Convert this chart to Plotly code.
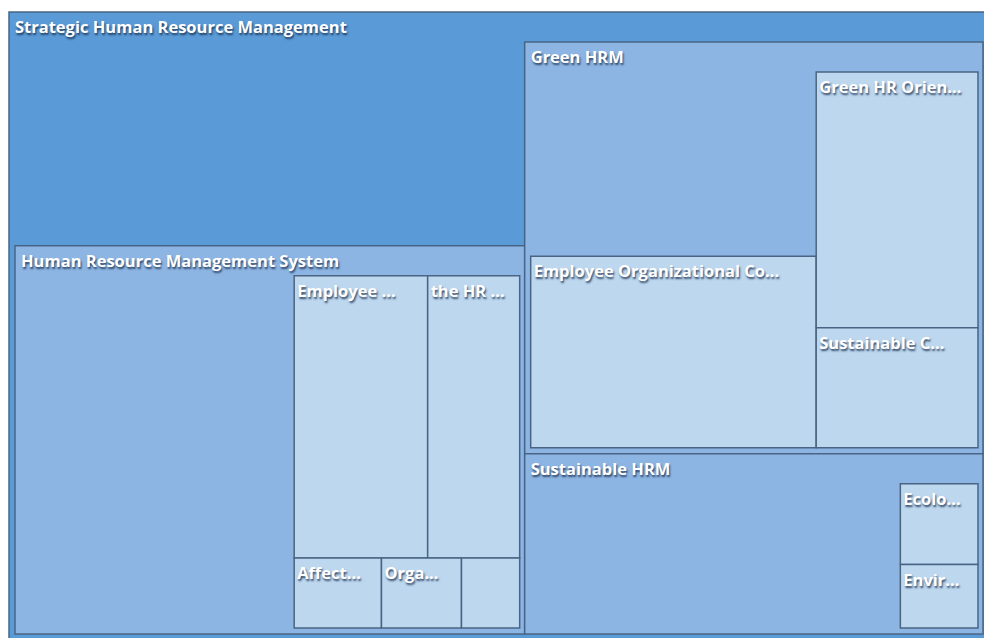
import plotly.graph_objects as go

# ---- data ----
ids = ["root", "root_own", "hrms", "green", "sust",
       "green_own", "green_emporg", "green_orient", "green_sustc",
       "hrms_own", "hrms_emp", "hrms_hr", "hrms_affect", "hrms_orga", "hrms_other",
       "sust_own", "sust_ecolo", "sust_envir"]
labels = ["Strategic Human Resource Management", "", "Human Resource Management System", "Green HRM", "Sustainable HRM",
          "", "Employee Organizational Co...", "Green HR Orien...", "Sustainable C...",
          "", "Employee ...", "the HR ...", "Affect...", "Orga...", "",
          "", "Ecolo...", "Envir..."]
parents = ["", "root", "root", "root", "root",
           "green", "green", "green", "green",
           "hrms", "hrms", "hrms", "hrms", "hrms", "hrms",
           "sust", "sust", "sust"]
values = [0, 181, 0, 0, 0,
          103, 107, 81, 38,
          189, 74, 51, 12, 11, 8,
          119, 14, 11]
levels = [0, 0, 1, 1, 1,
          1, 2, 2, 2,
          1, 2, 2, 2, 2, 2,
          1, 2, 2]
own_part = [i in ("root_own", "green_own", "hrms_own", "sust_own") for i in ids]

level_colors = ["#5A9AD6", "#8DB5E3", "#BDD7EF"]
colors = [level_colors[l] for l in levels]
line_widths = [0 if o else 1.5 for o in own_part]
shown_text = [lab if lab else " " for lab in labels]

fig = go.Figure(go.Treemap(
    ids=ids,
    labels=labels,
    parents=parents,
    values=values,
    text=shown_text,
    branchvalues="remainder",
    sort=False,
    texttemplate="%{text}",
    textposition="top left",
    hoverinfo="label+value",
    textfont=dict(family="Open Sans", size=16.5, color="white", weight="bold",
                  shadow="1px 2px 2px rgba(20,40,70,0.8)"),
    marker=dict(colors=colors,
                line=dict(color="#4A6584", width=line_widths),
                pad=dict(t=30, l=6, r=5, b=6)),
    tiling=dict(packing="squarify", squarifyratio=1.618, pad=0),
    pathbar=dict(visible=False),
))

fig.update_layout(
    width=988, height=642,
    margin=dict(l=9, r=0, t=12, b=2),
    paper_bgcolor="white",
)

fig.write_html("out.html",
               config={"displayModeBar": False},
               post_script="document.body.style.margin='0px';document.body.style.overflow='hidden';")
